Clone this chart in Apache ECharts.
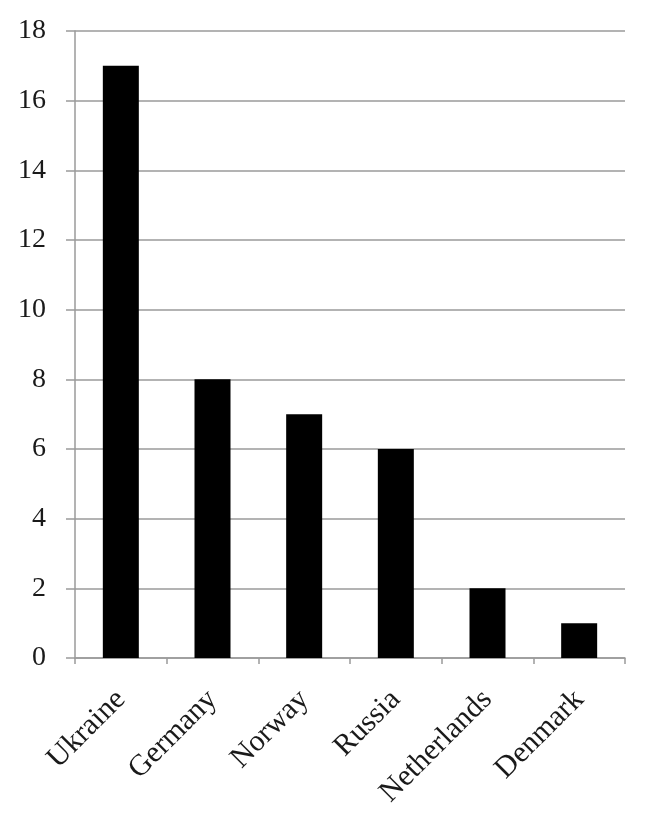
<!DOCTYPE html>
<html><head><meta charset="utf-8">
<script src="https://cdn.jsdelivr.net/npm/echarts@6/dist/echarts.min.js"></script>
<style>html,body{margin:0;padding:0;background:#fff}#c{width:657px;height:820px}</style>
</head><body><div id="c"></div>
<script>
const categories = ['Ukraine', 'Germany', 'Norway', 'Russia', 'Netherlands', 'Denmark'];
const values = [17, 8, 7, 6, 2, 1];
const yMin = 0, yMax = 18, yStep = 2;
const FONT = '"Liberation Serif", "Times New Roman", serif';

const chart = echarts.init(document.getElementById('c'), null, {renderer: 'canvas'});
chart.setOption({
  animation: false,
  grid: {left: 75, right: 32, top: 31, bottom: 162, containLabel: false},
  xAxis: {
    type: 'category', data: categories,
    axisLine: {lineStyle: {color: '#9a9a9a', width: 1.5}},
    axisTick: {show: true, length: 6, lineStyle: {color: '#9a9a9a', width: 1.5}},
    axisLabel: {rotate: 45, margin: 37, color: '#1a1a1a', fontFamily: FONT, fontSize: 30, interval: 0}
  },
  yAxis: {
    type: 'value', min: yMin, max: yMax, interval: yStep,
    axisLine: {show: true, lineStyle: {color: '#9a9a9a', width: 1.5}},
    axisTick: {show: true, inside: false, length: 9, lineStyle: {color: '#9a9a9a', width: 1.5}},
    splitLine: {lineStyle: {color: '#9a9a9a', width: 1.5}},
    axisLabel: {margin: 29, color: '#1a1a1a', fontFamily: FONT, fontSize: 28}
  },
  series: [{
    type: 'bar', data: values, barWidth: 36,
    itemStyle: {color: '#000'}
  }]
});
</script></body></html>
